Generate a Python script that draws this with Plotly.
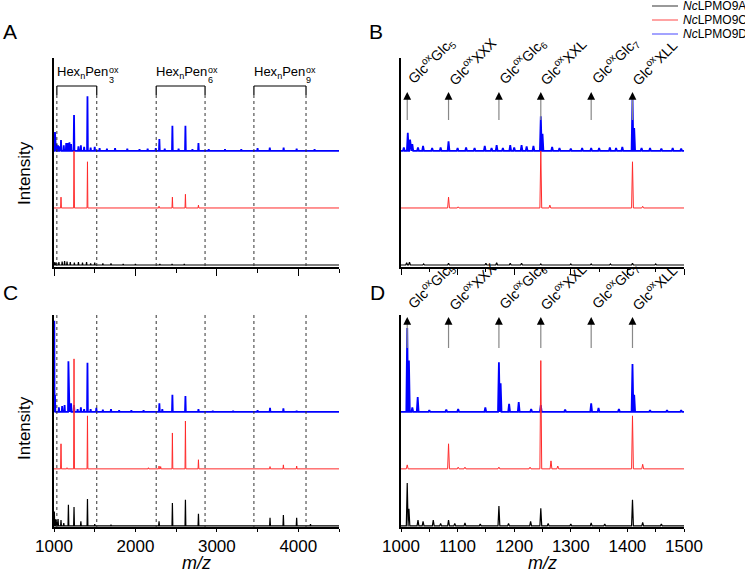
import plotly.graph_objects as go

W, H = 745, 569

# ---------------- data (peak lists: m/z and relative intensity) ----------------
# Panel A (full range, substrate 1)
A_blue_mz = [1005, 1012, 1030, 1050, 1070, 1086, 1120, 1150, 1170, 1190, 1210, 1246, 1300, 1330, 1370, 1411,
             1450, 1500, 1560, 1650, 1750, 1900, 2050, 2150, 2250, 2294, 2360, 2454, 2530, 2614, 2700, 2774,
             2900, 3100, 3300, 3500, 3650, 3820, 3980, 4200]
A_blue_int = [0.12, 0.33, 0.12, 0.10, 0.08, 0.19, 0.10, 0.14, 0.14, 0.15, 0.12, 0.63, 0.08, 0.10, 0.07, 0.96,
              0.06, 0.07, 0.05, 0.04, 0.05, 0.04, 0.03, 0.04, 0.05, 0.21, 0.04, 0.44, 0.04, 0.44, 0.03, 0.14,
              0.03, 0.03, 0.03, 0.05, 0.06, 0.06, 0.04, 0.03]
A_red_mz = [1086, 1246, 1411, 2290, 2454, 2614, 2774]
A_red_int = [0.19, 1.00, 0.81, 0.03, 0.19, 0.24, 0.05]
A_black_mz = [1010, 1030, 1060, 1100, 1130, 1160, 1200, 1250, 1300, 1350, 1400, 1450, 1500, 1600, 1700,
              1850, 2000, 2300, 2450, 2600, 3000]
A_black_int = [0.05, 0.04, 0.05, 0.06, 0.07, 0.06, 0.05, 0.04, 0.05, 0.04, 0.05, 0.03, 0.04, 0.03, 0.03,
               0.02, 0.02, 0.02, 0.02, 0.02, 0.01]

# Panel B (zoom 1000-1500, substrate 1)
B_blue_mz = [1005, 1012, 1016, 1020, 1030, 1039, 1055, 1070, 1084, 1100, 1115, 1130, 1148, 1160, 1169, 1180,
             1193, 1200, 1213, 1222, 1234, 1247, 1250, 1267, 1280, 1300, 1320, 1336, 1350, 1369, 1380, 1391,
             1409, 1412, 1425, 1440, 1460, 1480, 1495]
B_blue_int = [0.06, 0.32, 0.20, 0.12, 0.06, 0.09, 0.05, 0.06, 0.17, 0.05, 0.06, 0.05, 0.09, 0.05, 0.10, 0.05,
              0.10, 0.06, 0.10, 0.08, 0.09, 0.61, 0.30, 0.07, 0.05, 0.04, 0.05, 0.05, 0.05, 0.06, 0.05, 0.07,
              0.95, 0.40, 0.05, 0.05, 0.04, 0.05, 0.04]
B_red_mz = [1084, 1101, 1247, 1263, 1409, 1427]
B_red_int = [0.19, 0.02, 1.00, 0.05, 0.81, 0.03]
B_black_mz = [1010, 1015, 1040, 1084, 1150, 1169, 1193, 1213, 1247, 1300, 1336, 1370, 1409, 1450]
B_black_int = [0.04, 0.05, 0.02, 0.03, 0.03, 0.04, 0.03, 0.03, 0.02, 0.02, 0.02, 0.02, 0.03, 0.02]

# Panel C (full range, substrate 2)
C_blue_mz = [1004, 1012, 1060, 1100, 1130, 1177, 1195, 1210, 1246, 1290, 1330, 1370, 1411, 1450, 1520, 1600,
             1700, 1800, 1950, 2100, 2294, 2330, 2454, 2614, 2774, 2950, 3200, 3500, 3653, 3817, 3980]
C_blue_int = [1.60, 0.30, 0.08, 0.10, 0.12, 0.89, 0.15, 0.15, 0.12, 0.05, 0.08, 0.05, 0.86, 0.05, 0.07, 0.04,
              0.05, 0.03, 0.03, 0.03, 0.15, 0.05, 0.30, 0.28, 0.05, 0.02, 0.02, 0.03, 0.07, 0.06, 0.02]
C_red_mz = [1086, 1160, 1246, 1411, 2160, 2290, 2310, 2454, 2614, 2774, 3653, 3817, 3980]
C_red_int = [0.44, 0.02, 1.93, 0.93, 0.02, 0.05, 0.04, 0.63, 0.84, 0.16, 0.04, 0.07, 0.05]
C_black_mz = [1004, 1015, 1030, 1050, 1086, 1120, 1177, 1246, 1330, 1411, 1500, 1700, 2290, 2454, 2614, 2774,
              3653, 3817, 3980, 4150]
C_black_int = [0.25, 0.12, 0.10, 0.12, 0.10, 0.05, 0.37, 0.33, 0.08, 0.47, 0.03, 0.02, 0.08, 0.40, 0.46, 0.21,
               0.14, 0.19, 0.14, 0.03]

# Panel D (zoom 1000-1500, substrate 2)
D_blue_mz = [1011, 1014, 1020, 1029.5, 1050, 1080, 1101, 1149, 1173, 1176, 1191, 1208, 1230, 1247, 1290,
             1336, 1349, 1385, 1409, 1412, 1440, 1470, 1495]
D_blue_int = [1.47, 0.90, 0.08, 0.26, 0.03, 0.04, 0.05, 0.08, 0.87, 0.50, 0.14, 0.17, 0.05, 0.12, 0.04,
              0.15, 0.07, 0.05, 0.84, 0.30, 0.03, 0.03, 0.03]
D_red_mz = [1011, 1084, 1101, 1113, 1173, 1228, 1247, 1265, 1277, 1409, 1427]
D_red_int = [0.07, 0.44, 0.03, 0.03, 0.03, 0.03, 1.90, 0.14, 0.05, 0.93, 0.08]
D_black_mz = [1011, 1014, 1030, 1039, 1057, 1070, 1084, 1095, 1113, 1140, 1173, 1190, 1229, 1247, 1260, 1300,
              1336, 1360, 1409, 1427, 1460]
D_black_int = [0.75, 0.30, 0.10, 0.08, 0.10, 0.04, 0.10, 0.04, 0.05, 0.03, 0.35, 0.04, 0.08, 0.31, 0.04, 0.03,
               0.05, 0.03, 0.46, 0.06, 0.03]

series_names = ["<i>Nc</i>LPMO9A", "<i>Nc</i>LPMO9C", "<i>Nc</i>LPMO9D"]
series_colors = ["#000000", "#ff2a2a", "#0000ff"]
legend_colors = ["#555555", "#ff6666", "#6666ff"]

# Ion annotations (zoom panels) and mass windows (full range panels)
ion_mz = [1011, 1084, 1173, 1247, 1336, 1409]
ion_labels = ["Glc<sup>ox</sup>Glc<sub>5</sub>", "Glc<sup>ox</sup>XXX", "Glc<sup>ox</sup>Glc<sub>6</sub>",
              "Glc<sup>ox</sup>XXL", "Glc<sup>ox</sup>Glc<sub>7</sub>", "Glc<sup>ox</sup>XLL"]
window_lo = [1035, 2255, 3455]
window_hi = [1525, 2855, 4095]
window_pen = ["3", "6", "9"]

# ---------------- helpers ----------------
def px(x):
    return x / W

def py(y):
    return 1 - y / H

def spectrum(mz, inten, base, w, lo, hi):
    pairs = sorted(zip(mz, inten))
    xs, ys = [lo], [base]
    for m, v in pairs:
        xs += [m - w, m, m + w]
        ys += [base, base + v, base]
    xs.append(hi)
    ys.append(base)
    return xs, ys

FONT = "Arial, Liberation Sans, sans-serif"
fig = go.Figure()

panels = [
    ("x", "y", (A_black_mz, A_black_int), (A_red_mz, A_red_int), (A_blue_mz, A_blue_int), 1000, 4500, 5),
    ("x2", "y2", (B_black_mz, B_black_int), (B_red_mz, B_red_int), (B_blue_mz, B_blue_int), 1000, 1500, 1.6),
    ("x3", "y3", (C_black_mz, C_black_int), (C_red_mz, C_red_int), (C_blue_mz, C_blue_int), 1000, 4500, 5),
    ("x4", "y4", (D_black_mz, D_black_int), (D_red_mz, D_red_int), (D_blue_mz, D_blue_int), 1000, 1500, 1.6),
]
widths = [1.2, 1.0, 1.8]
bases = [0, 1, 2]
order = [0, 2, 1]  # black, blue, red on top
for xa, ya, blk, red, blu, lo, hi, w in panels:
    data = [blk, red, blu]
    for k in order:
        xs, ys = spectrum(data[k][0], data[k][1], bases[k], w, lo, hi)
        fig.add_trace(go.Scatter(x=xs, y=ys, mode="lines", xaxis=xa, yaxis=ya,
                                 line=dict(color=series_colors[k], width=widths[k]),
                                 name=series_names[k], showlegend=False, hoverinfo="skip"))

xdomL = [px(54), px(339)]
xdomR = [px(401), px(684)]
ydomT = [py(267), py(58)]
ydomB = [py(527), py(315)]

def xax(dom, anchor, rng, dtick, mdtick, showlabels, ticklen, ticks="outside", line=True):
    return dict(domain=dom, anchor=anchor, range=rng, showline=line, linecolor="black", linewidth=1.5,
                showgrid=False, zeroline=False, ticks=ticks, ticklen=ticklen, tickwidth=1.2,
                tickcolor="black", dtick=dtick, tick0=1000, showticklabels=showlabels, automargin=False,
                tickfont=dict(family=FONT, size=17, color="black"),
                minor=dict(dtick=mdtick, ticks=ticks, ticklen=max(3, ticklen - 3), tickwidth=1,
                           tickcolor="black", showgrid=False))

def yax(dom, anchor, rng):
    return dict(domain=dom, anchor=anchor, range=rng, showline=True, linecolor="black", linewidth=1.5,
                showgrid=False, zeroline=False, ticks="", showticklabels=False, automargin=False)

x5 = xax(xdomL, "y3", [1000, 4500], 1000, 500, False, 3, ticks="inside", line=False)
x5["overlaying"] = "x3"
x6 = xax(xdomR, "y4", [1000, 1500], 100, 50, False, 3, ticks="inside", line=False)
x6["overlaying"] = "x4"

fig.update_layout(
    width=W, height=H, margin=dict(l=0, r=0, t=0, b=0, pad=0, autoexpand=False),
    paper_bgcolor="white", plot_bgcolor="white", showlegend=False,
    xaxis=xax(xdomL, "y", [1000, 4500], 1000, 500, False, 7),
    yaxis=yax(ydomT, "x", [-0.035, 3.63]),
    xaxis2=xax(xdomR, "y2", [1000, 1500], 100, 50, False, 6),
    yaxis2=yax(ydomT, "x2", [-0.035, 3.63]),
    xaxis3=xax(xdomL, "y3", [1000, 4500], 1000, 500, True, 3),
    yaxis3=yax(ydomB, "x3", [-0.02, 3.70]),
    xaxis4=xax(xdomR, "y4", [1000, 1500], 100, 50, True, 3),
    yaxis4=yax(ydomB, "x4", [-0.02, 3.70]),
    xaxis5=x5,
    xaxis6=x6,
)

shapes = []
annotations = []

# Panel letters
for letter, (lx, ly) in zip("ABCD", [(10, 31), (376, 31), (10, 292), (377, 292)]):
    annotations.append(dict(text=letter, x=px(lx), y=py(ly), xref="paper", yref="paper",
                            xanchor="center", yanchor="middle", showarrow=False,
                            font=dict(family=FONT, size=21, color="black")))

# Intensity labels
for cy in [173, 428]:
    annotations.append(dict(text="Intensity", x=px(24), y=py(cy), xref="paper", yref="paper",
                            xanchor="center", yanchor="middle", showarrow=False, textangle=-90,
                            font=dict(family=FONT, size=17, color="black")))

# m/z labels
for cx in [196, 542]:
    annotations.append(dict(text="<i>m/z</i>", x=px(cx), y=py(563), xref="paper", yref="paper",
                            xanchor="center", yanchor="middle", showarrow=False,
                            font=dict(family=FONT, size=18, color="black")))

# Mass windows: panel A brackets + dotted lines, panel C dotted lines
for lo, hi, pen in zip(window_lo, window_hi, window_pen):
    for m in (lo, hi):
        shapes.append(dict(type="line", xref="x", yref="paper", x0=m, x1=m, y0=py(95), y1=py(267),
                           line=dict(color="#333333", width=1, dash="dot")))
        shapes.append(dict(type="line", xref="x3", yref="paper", x0=m, x1=m, y0=py(315), y1=py(527),
                           line=dict(color="#333333", width=1, dash="dot")))
        shapes.append(dict(type="line", xref="x", yref="paper", x0=m, x1=m, y0=py(86), y1=py(95),
                           line=dict(color="black", width=1.2)))
    shapes.append(dict(type="line", xref="x", yref="paper", x0=lo, x1=hi, y0=py(86), y1=py(86),
                       line=dict(color="black", width=1.2)))
    annotations.append(dict(text="Hex<sub>n</sub>Pen", x=lo, y=py(73), xref="x", yref="paper",
                            xanchor="left", yanchor="middle", showarrow=False, xshift=-2,
                            font=dict(family=FONT, size=13, color="black")))
    annotations.append(dict(text="ox", x=lo, y=py(70), xref="x", yref="paper",
                            xanchor="left", yanchor="middle", showarrow=False, xshift=50,
                            font=dict(family=FONT, size=9, color="black")))
    annotations.append(dict(text=pen, x=lo, y=py(80), xref="x", yref="paper",
                            xanchor="left", yanchor="middle", showarrow=False, xshift=50,
                            font=dict(family=FONT, size=9, color="black")))

# Arrows and rotated ion labels in panels B and D
for xref, tip, bot in [("x2", 92, 120), ("x4", 317, 348)]:
    for m, lab in zip(ion_mz, ion_labels):
        shapes.append(dict(type="line", xref=xref, yref="paper", x0=m, x1=m, y0=py(bot), y1=py(tip + 6),
                           line=dict(color="#888888", width=1.2)))
        annotations.append(dict(text="", x=m, y=py(tip), xref=xref, yref="paper", showarrow=True,
                                ax=0, ay=8, arrowhead=2, arrowsize=1.3, arrowwidth=1.2, arrowcolor="black"))
        annotations.append(dict(text=lab, x=m, y=py(tip - 1), xref=xref, yref="paper", showarrow=False,
                                textangle=-45, xanchor="left", yanchor="bottom", xshift=-7,
                                font=dict(family=FONT, size=14, color="black")))

# Legend (top right)
for i, (nm, col) in enumerate(zip(series_names, legend_colors)):
    yy = 6 + 14 * i
    shapes.append(dict(type="line", xref="paper", yref="paper", x0=px(652), x1=px(678), y0=py(yy), y1=py(yy),
                       line=dict(color=col, width=1.2)))
    annotations.append(dict(text=nm, x=px(681), y=py(yy), xref="paper", yref="paper", xanchor="left",
                            yanchor="middle", showarrow=False, font=dict(family=FONT, size=12, color="black")))

fig.update_layout(shapes=shapes, annotations=annotations)
fig.write_html("out.html", config={"displayModeBar": False},
               post_script="document.body.style.margin='0px';")
